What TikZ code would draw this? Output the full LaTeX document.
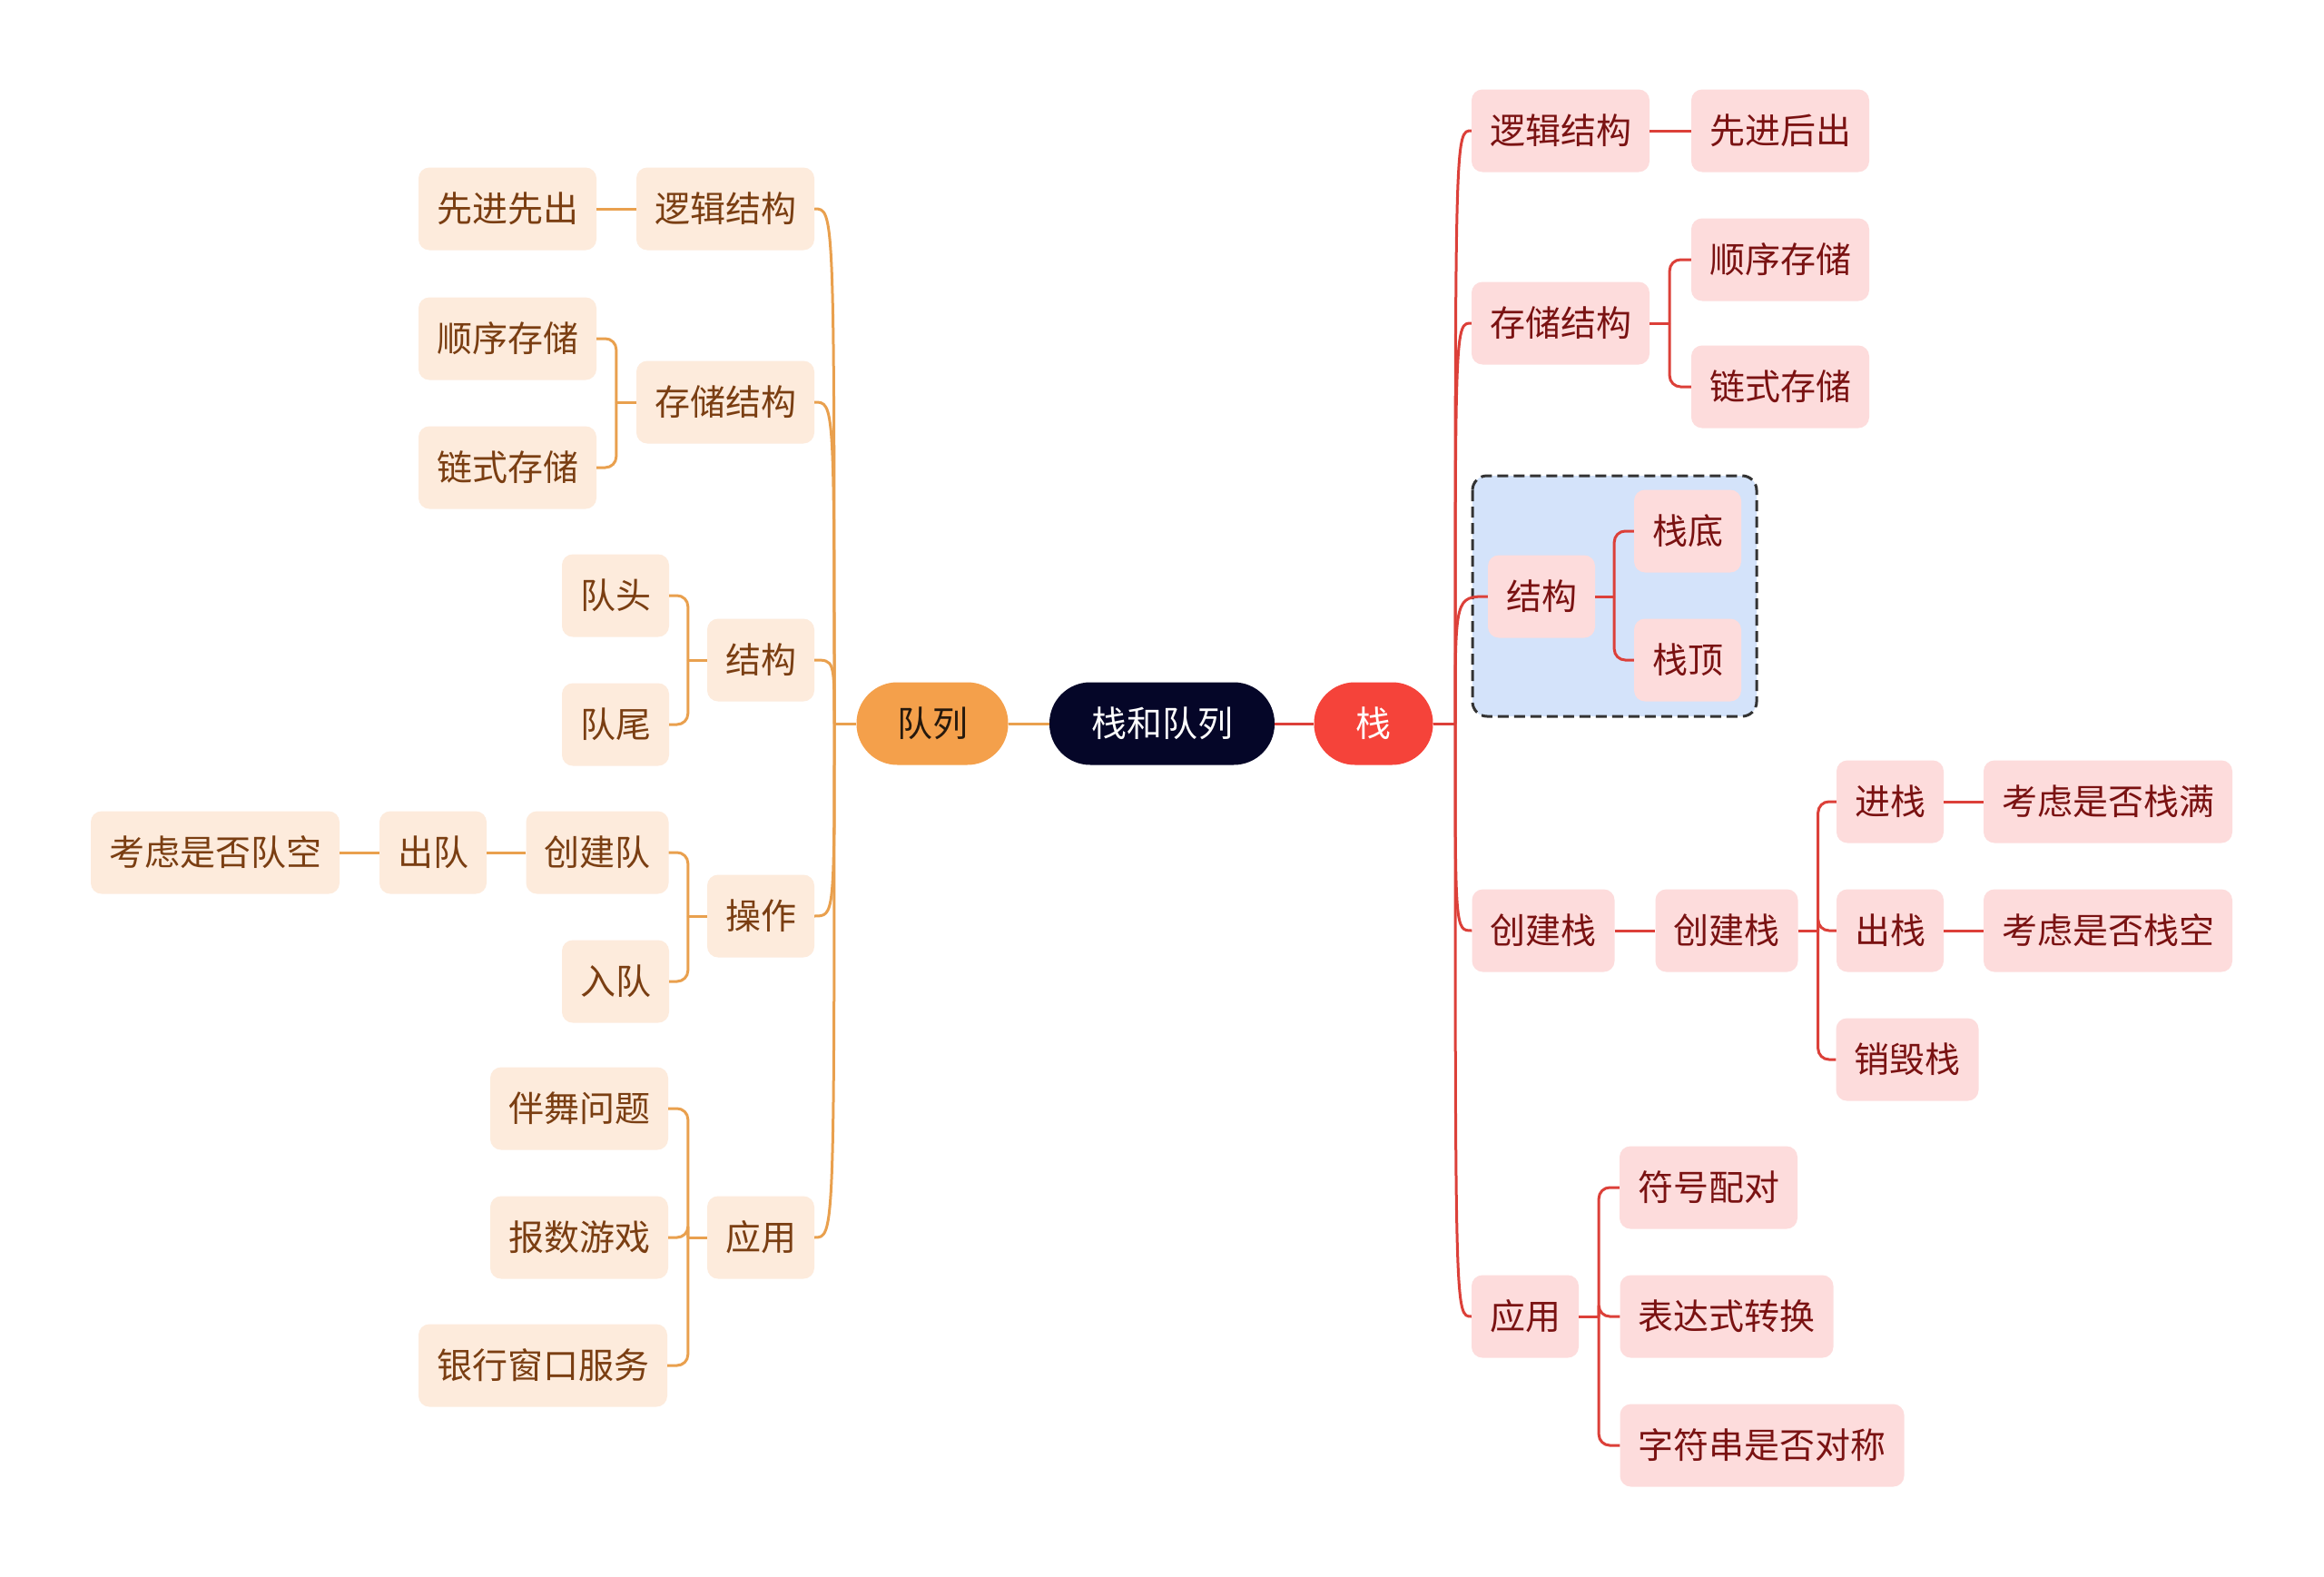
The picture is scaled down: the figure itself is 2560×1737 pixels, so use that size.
\documentclass[tikz,border=0pt]{standalone}
\usepackage{fontspec}
\newfontfamily\cjk{Noto Sans CJK SC}
\usetikzlibrary{calc}
\definecolor{ofill}{HTML}{FDEBDC}
\definecolor{otext}{HTML}{7A3E12}
\definecolor{oline}{HTML}{E9A04E}
\definecolor{omain}{HTML}{F4A04B}
\definecolor{rfill}{HTML}{FDDCDC}
\definecolor{rtext}{HTML}{7A1212}
\definecolor{rline}{HTML}{DC4039}
\definecolor{rmain}{HTML}{F5433A}
\definecolor{rootc}{HTML}{050628}
\definecolor{grpfill}{HTML}{D4E3FA}
\definecolor{grpline}{HTML}{333333}
\tikzset{
  base/.style={rectangle, rounded corners=12, minimum height=91, inner xsep=20, inner ysep=0,
    font=\cjk\fontsize{39}{39}\selectfont, anchor=center},
  obox/.style={base, fill=ofill, text=otext},
  rbox/.style={base, fill=rfill, text=rtext},
  pill/.style={base, rounded corners=45, minimum height=91},
  ol/.style={draw=oline, line width=3},
  rl/.style={draw=rline, line width=3},
  elb/.style={rounded corners=12}
}
\begin{document}
\begin{tikzpicture}[x=1pt,y=-1pt]
\useasboundingbox (0,0) rectangle (2560,1737);
\fill[white] (0,0) rectangle (2560,1737);
% group box
\draw[grpline, fill=grpfill, dashed, dash pattern=on 12pt off 6pt, line width=3, rounded corners=16] (1622,524) rectangle (1935,789);

% central
\node[pill, fill=rootc, text=white, minimum width=248] (root) at (1280,797) {栈和队列};
\node[pill, fill=omain, text=black!80!brown, minimum width=167] (q) at (1027,797) {队列};
\node[pill, fill=rmain, text=white, minimum width=131] (s) at (1513,797) {栈};
\coordinate (LH) at (919,797);
\coordinate (RH) at (1603,797);

% left side
\node[obox] (qlog) at (799,230) {逻辑结构};
\node[obox] (qfifo) at (559,230) {先进先出};
\node[obox] (qsto) at (799,443) {存储结构};
\node[obox] (qseq) at (559,373) {顺序存储};
\node[obox] (qlink) at (559,515) {链式存储};
\node[obox] (qstr) at (838,727) {结构};
\node[obox] (qhead) at (678,656) {队头};
\node[obox] (qtail) at (678,798) {队尾};
\node[obox] (qop) at (838,1009) {操作};
\node[obox] (qcre) at (658,939) {创建队};
\node[obox] (qout) at (477,939) {出队};
\node[obox] (qemp) at (237,939) {考虑是否队空};
\node[obox] (qin) at (678,1081) {入队};
\node[obox] (qapp) at (838,1363) {应用};
\node[obox] (qdance) at (638,1221) {伴舞问题};
\node[obox] (qgame) at (638,1363) {报数游戏};
\node[obox] (qbank) at (598,1504) {银行窗口服务};

% right side
\node[rbox] (slog) at (1719,144) {逻辑结构};
\node[rbox] (slifo) at (1961,144) {先进后出};
\node[rbox] (ssto) at (1719,356) {存储结构};
\node[rbox] (sseq) at (1961,286) {顺序存储};
\node[rbox] (slink) at (1961,426) {链式存储};
\node[rbox] (sstr) at (1698,657) {结构};
\node[rbox] (sbot) at (1859,585) {栈底};
\node[rbox] (stop) at (1859,727) {栈顶};
\node[rbox] (scre) at (1700,1025) {创建栈};
\node[rbox] (scre2) at (1902,1025) {创建栈};
\node[rbox] (spush) at (2082,883) {进栈};
\node[rbox] (sfull) at (2322,883) {考虑是否栈满};
\node[rbox] (spop) at (2082,1025) {出栈};
\node[rbox] (sempty) at (2322,1025) {考虑是否栈空};
\node[rbox] (sdes) at (2101,1167) {销毁栈};
\node[rbox] (sapp) at (1680,1450) {应用};
\node[rbox] (ssym) at (1882,1308) {符号配对};
\node[rbox] (sexp) at (1902,1450) {表达式转换};
\node[rbox] (sstrg) at (1941,1592) {字符串是否对称};

% main connectors
\draw[ol] (root.west) -- (q.east);
\draw[rl] (root.east) -- (s.west);
\draw[ol] (q.west) -- (LH);
\draw[rl] (s.east) -- (RH);
\foreach \c in {qlog,qsto,qstr,qop,qapp}
  \draw[ol] (LH) .. controls (LH |- \c.east) and (LH |- \c.east) .. (\c.east);
\foreach \c in {slog,ssto,sstr,scre,sapp}
  \draw[rl] (RH) .. controls (RH |- \c.west) and (RH |- \c.west) .. (\c.west);

% left sub connectors
\draw[ol] (qlog.west) -- (qfifo.east);
\coordinate (b1) at ($(qsto.west)+(-22,0)$);
\draw[ol] (qsto.west) -- (b1);
\draw[ol,elb] (b1) |- (qseq.east);
\draw[ol,elb] (b1) |- (qlink.east);
\coordinate (b2) at ($(qstr.west)+(-21,0)$);
\draw[ol] (qstr.west) -- (b2);
\draw[ol,elb] (b2) |- (qhead.east);
\draw[ol,elb] (b2) |- (qtail.east);
\coordinate (b3) at ($(qop.west)+(-21,0)$);
\draw[ol] (qop.west) -- (b3);
\draw[ol,elb] (b3) |- (qcre.east);
\draw[ol,elb] (b3) |- (qin.east);
\draw[ol] (qcre.west) -- (qout.east);
\draw[ol] (qout.west) -- (qemp.east);
\coordinate (b4) at ($(qapp.west)+(-21,0)$);
\draw[ol] (qapp.west) -- (b4);
\draw[ol,elb] (b4) |- (qdance.east);
\draw[ol,elb] (b4) |- (qgame.east);
\draw[ol,elb] (b4) |- (qbank.east);

% right sub connectors
\draw[rl] (slog.east) -- (slifo.west);
\coordinate (c1) at ($(ssto.east)+(22,0)$);
\draw[rl] (ssto.east) -- (c1);
\draw[rl,elb] (c1) |- (sseq.west);
\draw[rl,elb] (c1) |- (slink.west);
\coordinate (c2) at ($(sstr.east)+(21,0)$);
\draw[rl] (sstr.east) -- (c2);
\draw[rl,elb] (c2) |- (sbot.west);
\draw[rl,elb] (c2) |- (stop.west);
\draw[rl] (scre.east) -- (scre2.west);
\coordinate (c3) at ($(scre2.east)+(22,0)$);
\draw[rl] (scre2.east) -- (c3);
\draw[rl,elb] (c3) |- (spush.west);
\draw[rl,elb] (c3) |- (spop.west);
\draw[rl,elb] (c3) |- (sdes.west);
\draw[rl] (spush.east) -- (sfull.west);
\draw[rl] (spop.east) -- (sempty.west);
\coordinate (c4) at ($(sapp.east)+(22,0)$);
\draw[rl] (sapp.east) -- (c4);
\draw[rl,elb] (c4) |- (ssym.west);
\draw[rl,elb] (c4) |- (sexp.west);
\draw[rl,elb] (c4) |- (sstrg.west);
\end{tikzpicture}
\end{document}
